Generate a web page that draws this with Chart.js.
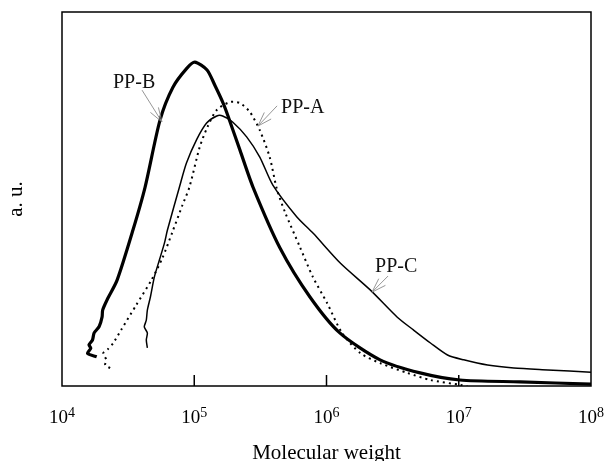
<!DOCTYPE html>
<html>
<head>
<meta charset="utf-8">
<script src="https://cdn.jsdelivr.net/npm/chart.js@4.4.1/dist/chart.umd.min.js"></script>
<style>
  body { margin: 0; background: #fff; }
  #wrap { width: 608px; height: 461px; }
</style>
</head>
<body>
<div id="wrap"><canvas id="mwdChart"></canvas></div>
<script>
// x axis decades
var decadeTicks = [1e4, 1e5, 1e6, 1e7, 1e8];

// PP-A (dotted)
var mwA = [2.31e4, 2.12e4, 2.16e4, 2.05e4, 2.23e4, 2.44e4, 2.80e4, 3.65e4, 4.74e4, 5.74e4,
           6.84e4, 8.15e4, 9.20e4, 1.10e5, 1.26e5, 1.48e5, 1.85e5, 2.20e5, 2.63e5, 3.13e5,
           3.72e5, 4.21e5, 4.84e5, 6.29e5, 7.90e5, 1.01e6, 1.31e6, 1.80e6, 2.55e6, 4.08e6,
           6.11e6, 1.03e7, 1.16e7];
var valA = [0.048, 0.056, 0.070, 0.088, 0.099, 0.115, 0.150, 0.217, 0.283, 0.342,
            0.412, 0.484, 0.532, 0.639, 0.693, 0.738, 0.759, 0.757, 0.733, 0.684,
            0.612, 0.527, 0.466, 0.372, 0.291, 0.222, 0.142, 0.088, 0.061, 0.035,
            0.016, 0.003, 0.0];

// PP-B (thick)
var mwB = [1.83e4, 1.56e4, 1.65e4, 1.60e4, 1.70e4, 1.75e4, 1.91e4, 2.01e4, 2.03e4, 2.19e4,
           2.61e4, 3.44e4, 4.25e4, 5.51e4, 6.90e4, 8.81e4, 1.01e5, 1.25e5, 1.44e5, 1.65e5,
           1.80e5, 2.22e5, 2.78e5, 4.45e5, 7.50e5, 1.26e6, 2.54e6, 5.10e6, 1.02e7, 2.90e7,
           1.0e8];
var valB = [0.078, 0.087, 0.101, 0.110, 0.123, 0.142, 0.159, 0.185, 0.203, 0.230,
            0.283, 0.417, 0.532, 0.711, 0.799, 0.850, 0.866, 0.845, 0.802, 0.757,
            0.722, 0.630, 0.532, 0.369, 0.238, 0.142, 0.070, 0.035, 0.016, 0.011,
            0.005];

// PP-C (thin)
var mwC = [4.42e4, 4.34e4, 4.42e4, 4.19e4, 4.34e4, 4.42e4, 4.66e4, 4.99e4, 5.45e4, 5.95e4,
           6.27e4, 7.73e4, 8.73e4, 1.04e5, 1.24e5, 1.48e5, 1.64e5, 1.95e5, 2.49e5, 3.13e5,
           3.93e5, 5.97e5, 7.90e5, 1.27e6, 2.14e6, 3.43e6, 4.54e6, 6.11e6, 8.22e6,
           1.09e7, 1.65e7, 2.61e7, 4.72e7, 1.0e8];
var valC = [0.102, 0.123, 0.142, 0.158, 0.176, 0.203, 0.238, 0.291, 0.337, 0.382,
            0.417, 0.532, 0.596, 0.658, 0.703, 0.722, 0.722, 0.706, 0.666, 0.612,
            0.537, 0.452, 0.409, 0.329, 0.257, 0.184, 0.150, 0.115, 0.083,
            0.070, 0.056, 0.048, 0.043, 0.037];

// curve labels with arrows (data units)
var callouts = [
    { text: 'PP-B', at: [2.43e4, 0.797], from: [4.03e4, 0.791], tip: [5.70e4, 0.706] },
    { text: 'PP-A', at: [4.53e5, 0.730], from: [4.23e5, 0.749], tip: [3.03e5, 0.695] },
    { text: 'PP-C', at: [2.33e6, 0.305], from: [2.92e6, 0.294], tip: [2.21e6, 0.251] }
];

function points(mw, val) {
    return mw.map(function (m, i) { return { x: m, y: val[i] }; });
}

var serif = '"Liberation Serif", "Times New Roman", serif';

var decorations = {
    id: 'decorations',
    afterDatasetsDraw: function (chart) {
        var ctx = chart.ctx, a = chart.chartArea;
        var xs = chart.scales.x, ys = chart.scales.y;
        ctx.save();

        // frame
        ctx.strokeStyle = '#000';
        ctx.lineWidth = 1.5;
        ctx.strokeRect(a.left, a.top, a.right - a.left, a.bottom - a.top);

        // inward ticks + 10^n labels
        ctx.fillStyle = '#000';
        ctx.textBaseline = 'alphabetic';
        ctx.textAlign = 'left';
        decadeTicks.forEach(function (v, i) {
            var px = xs.getPixelForValue(v);
            if (i > 0 && i < decadeTicks.length - 1) {
                ctx.beginPath();
                ctx.moveTo(px, a.bottom);
                ctx.lineTo(px, a.bottom - 11);
                ctx.stroke();
            }
            var exp = String(Math.round(Math.log10(v)));
            ctx.font = '19px ' + serif;
            var w1 = ctx.measureText('10').width;
            ctx.font = '14px ' + serif;
            var w2 = ctx.measureText(exp).width;
            var x0 = px - (w1 + w2) / 2;
            ctx.font = '19px ' + serif;
            ctx.fillText('10', x0, a.bottom + 37);
            ctx.font = '14px ' + serif;
            ctx.fillText(exp, x0 + w1, a.bottom + 30.5);
        });

        // axis titles
        ctx.font = '21px ' + serif;
        ctx.textAlign = 'center';
        ctx.fillText('Molecular weight', (a.left + a.right) / 2, 459);
        ctx.save();
        ctx.translate(22, (a.top + a.bottom) / 2);
        ctx.rotate(-Math.PI / 2);
        ctx.fillText('a. u.', 0, 0);
        ctx.restore();

        // callouts
        callouts.forEach(function (c) {
            ctx.font = '20px ' + serif;
            ctx.textAlign = 'left';
            ctx.fillStyle = '#111';
            ctx.fillText(c.text, xs.getPixelForValue(c.at[0]), ys.getPixelForValue(c.at[1]));
            var fx = xs.getPixelForValue(c.from[0]), fy = ys.getPixelForValue(c.from[1]);
            var tx = xs.getPixelForValue(c.tip[0]), ty = ys.getPixelForValue(c.tip[1]);
            var ang = Math.atan2(ty - fy, tx - fx);
            ctx.strokeStyle = '#8a8a8a';
            ctx.lineWidth = 0.9;
            ctx.beginPath();
            ctx.moveTo(fx, fy);
            ctx.lineTo(tx, ty);
            [-0.32, 0.32].forEach(function (d) {
                ctx.moveTo(tx, ty);
                ctx.lineTo(tx - 15 * Math.cos(ang + d), ty - 15 * Math.sin(ang + d));
            });
            ctx.stroke();
        });

        ctx.restore();
    }
};

new Chart(document.getElementById('mwdChart').getContext('2d'), {
    type: 'line',
    data: {
        datasets: [{
            label: 'PP-C',
            data: points(mwC, valC),
            borderColor: '#000',
            borderWidth: 1.5,
            tension: 0.25
        }, {
            label: 'PP-A',
            data: points(mwA, valA),
            borderColor: '#000',
            borderWidth: 2,
            borderDash: [2, 4],
            tension: 0.25
        }, {
            label: 'PP-B',
            data: points(mwB, valB),
            borderColor: '#000',
            borderWidth: 3.2,
            tension: 0.25
        }]
    },
    options: {
        responsive: true,
        maintainAspectRatio: false,
        animation: false,
        devicePixelRatio: 1,
        elements: { point: { radius: 0 } },
        layout: { padding: { left: 0, top: 12, right: 17, bottom: 0 } },
        plugins: { legend: { display: false }, tooltip: { enabled: false } },
        scales: {
            x: {
                type: 'logarithmic',
                min: 1e4,
                max: 1e8,
                afterBuildTicks: function (s) {
                    s.ticks = decadeTicks.map(function (v) { return { value: v }; });
                },
                afterFit: function (s) { s.height = 75; },
                grid: { display: false },
                border: { display: false },
                ticks: { display: false }
            },
            y: {
                min: 0,
                max: 1,
                afterFit: function (s) { s.width = 62; },
                grid: { display: false },
                border: { display: false },
                ticks: { display: false }
            }
        }
    },
    plugins: [decorations]
});
</script>
</body>
</html>
